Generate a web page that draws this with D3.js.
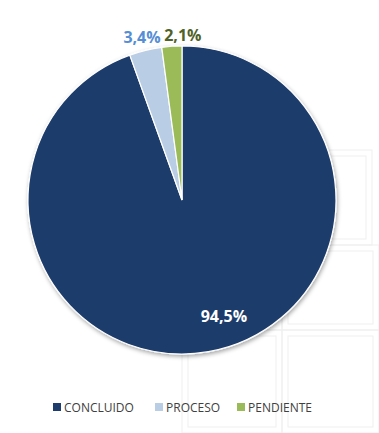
<!DOCTYPE html>
<html><head><meta charset="utf-8">
<script src="https://cdn.jsdelivr.net/npm/d3@7/dist/d3.min.js"></script>
<style>body{margin:0;background:#fff}svg{display:block}</style>
</head><body><svg id="c" width="379" height="433"></svg>
<script>
const categories = ["CONCLUIDO", "PROCESO", "PENDIENTE"];
const values = [94.5, 3.4, 2.1];
const labels = ["94,5%", "3,4%", "2,1%"];
const colors = ["#1F3D6C", "#B9CDE5", "#9BBB59"];
const labelColors = ["#FFFFFF", "#558ED5", "#4F6228"];

const svg = d3.select("#c");
const cx = 182, cy = 200, r = 154;

// faint decorative background
const bg = svg.append("g").attr("stroke","#efefef").attr("fill","none").attr("stroke-width",1);
[[182,150,190,95],[182,245,100,85],[282,245,97,85],[182,330,100,103],[282,330,97,103]].forEach(b=>{
  bg.append("rect").attr("x",b[0]).attr("y",b[1]).attr("width",b[2]).attr("height",b[3]);
  bg.append("rect").attr("x",b[0]+6).attr("y",b[1]+6).attr("width",b[2]-12).attr("height",b[3]-12);
});

const defs = svg.append("defs");
const f = defs.append("filter").attr("id","sh").attr("x","-10%").attr("y","-10%").attr("width","120%").attr("height","120%");
f.append("feDropShadow").attr("dx",1).attr("dy",2).attr("stdDeviation",2).attr("flood-color","#000").attr("flood-opacity",0.35);

const data = categories.map((c,i)=>({c, v: values[i], i}));
const pie = d3.pie().value(d=>d.v).sort(null);
const arcs = pie(data);
const arc = d3.arc().innerRadius(0).outerRadius(r);
const g = svg.append("g").attr("transform",`translate(${cx},${cy})`);
g.append("g").attr("filter","url(#sh)").selectAll("path").data(arcs).join("path")
  .attr("d", arc)
  .attr("fill", d=>colors[d.data.i])
  .attr("stroke","#ffffff").attr("stroke-width",1.2);

// labels
const outerArc = d3.arc().innerRadius(r+15).outerRadius(r+15);
const innerArc = d3.arc().innerRadius(r*0.75).outerRadius(r*0.75);
const nudge = [[22,2],[0,1],[12,4]];
g.selectAll("text.lbl").data(arcs).join("text")
  .attr("class","lbl")
  .attr("transform",(d,i)=>{
    const p = i===0 ? innerArc.centroid(d) : outerArc.centroid(d);
    return `translate(${p[0]+nudge[i][0]},${p[1]+nudge[i][1]})`;
  })
  .attr("text-anchor","middle").attr("dominant-baseline","central")
  .attr("font-family","'Open Sans', sans-serif").attr("font-weight","bold").attr("font-size","16px")
  .attr("fill",(d,i)=>labelColors[i])
  .text((d,i)=>labels[i]);

// legend
const legX = [53, 155, 237];
const lg = svg.append("g").attr("transform","translate(0,407)");
categories.forEach((c,i)=>{
  lg.append("rect").attr("x",legX[i]).attr("y",-4).attr("width",8).attr("height",8).attr("fill",colors[i]);
  lg.append("text").attr("x",legX[i]+11).attr("y",0).attr("dominant-baseline","central")
    .attr("font-family","'Open Sans', sans-serif").attr("font-size","12px").attr("fill","#404040").text(c);
});
</script></body></html>
